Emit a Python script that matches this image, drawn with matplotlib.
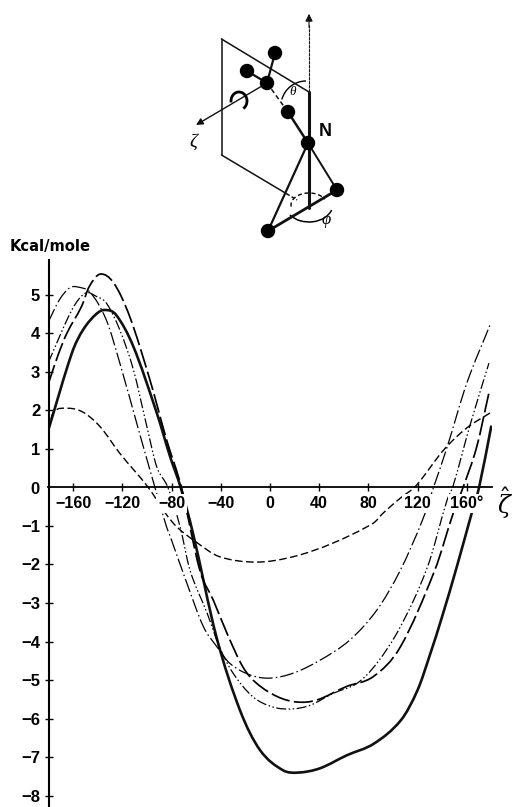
import matplotlib
matplotlib.use("Agg")
import matplotlib.pyplot as plt
from matplotlib.patches import Circle, Arc, PathPatch
from matplotlib.path import Path

plt.rcParams['font.family'] = ['Liberation Sans', 'DejaVu Sans']
plt.rcParams['mathtext.fontset'] = 'dejavuserif'

solid_x = [-180,-161,-152,-141,-134,-125,-111,-92,-81,-72.6,-62.5,-43.5,-24.4,-8,10.6,23,40.6,62.6,84.5,106.5,120,130,140,152,164,170,180]
solid_y = [1.5,3.48,4.08,4.5,4.6,4.47,3.65,1.93,0.78,0,-1.2,-3.88,-5.78,-6.82,-7.34,-7.4,-7.29,-6.95,-6.65,-6.04,-5.26,-4.35,-3.35,-2.05,-0.67,0,1.6]
ldash_x = [-180,-172,-165,-153,-147,-138,-127,-114,-97.5,-84,-72,-57,-46,-35,-22,-11,6,22,38,62,84,106,134,149,157,168,178]
ldash_y = [2.7,3.45,4.0,4.7,5.2,5.53,5.3,4.43,2.78,1.23,0,-2.15,-2.93,-3.78,-4.66,-5.08,-5.43,-5.57,-5.52,-5.17,-4.91,-4.14,-2.15,-0.67,0,1.04,2.45]
dd2_x = [-180,-161,-150,-141,-133,-122,-111,-100,-92,-83,-73,-65,-51,-41,-30,-14,2.4,18,33,51,71,87,106,128,144,149,163,178]
dd2_y = [3.25,4.6,5.04,4.95,4.78,4.08,3.05,1.57,0.53,0,-1.03,-2.15,-3.27,-4.14,-4.82,-5.43,-5.7,-5.75,-5.65,-5.35,-5.08,-4.56,-3.62,-2.07,-0.33,0.05,1.65,3.22]
dd1_x = [-180,-171,-163,-157,-146,-133,-122,-106,-93.5,-84,-81,-67.5,-54,-43,-32.5,-16,0,19,41,65,87,106,124,133,144,160,179]
dd1_y = [4.3,4.87,5.17,5.2,5.05,4.34,3.22,1.4,0,-1.03,-1.28,-2.49,-3.62,-4.14,-4.57,-4.87,-4.95,-4.82,-4.48,-3.96,-3.18,-2.15,-0.85,0,1.04,2.7,4.22]
sdash_x = [-180,-176,-164,-152,-138,-122,-99,-85,-75.6,-60,-41,-11,19,51,84,92,106,119,141,160,179]
sdash_y = [1.5,1.95,2.05,1.95,1.57,0.88,0,-0.67,-1.03,-1.42,-1.8,-1.94,-1.8,-1.45,-0.93,-0.67,-0.28,0.05,0.96,1.54,1.93]
x_ticks = [-160,-120,-80,-40,0,40,80,120,160]
x_labels = ['\u2212160','\u2212120','\u221280','\u221240','0','40','80','120','160°']
y_ticks = [5,4,3,2,1,-1,-2,-3,-4,-5,-6,-7,-8]
y_labels = ['5','4','3','2','1','\u22121','\u22122','\u22123','\u22124','\u22125','\u22126','\u22127','\u22128']

W, H = 513, 807
fig = plt.figure(figsize=(W/100, H/100), dpi=100, facecolor='white')
L, R, T, B = 48.5, 492, 260, 807
ax = fig.add_axes([L/W, 1-B/H, (R-L)/W, (B-T)/H])
ax.set_xlim(-180, 180.5)
ax.set_ylim((487.3-B)/38.55, (487.3-T)/38.55)
ax.patch.set_visible(False)
ax.set_axisbelow(False)
for s in ('top','right'):
    ax.spines[s].set_visible(False)
ax.spines['bottom'].set_position(('data',0))
ax.spines['left'].set_linewidth(1.5)
ax.spines['bottom'].set_linewidth(1.3)

def curve(xs, ys, **kw):
    """Smooth pen stroke through the read points (cubic segments, x-monotone)."""
    n = len(xs)
    m = [0.0]*n
    for i in range(n):
        a, b = max(i-1, 0), min(i+1, n-1)
        m[i] = (ys[b]-ys[a])/(xs[b]-xs[a])
    verts = [(xs[0], ys[0])]
    codes = [Path.MOVETO]
    for i in range(n-1):
        d = (xs[i+1]-xs[i])/3
        verts += [(xs[i]+d, ys[i]+m[i]*d), (xs[i+1]-d, ys[i+1]-m[i+1]*d), (xs[i+1], ys[i+1])]
        codes += [Path.CURVE4]*3
    ax.add_patch(PathPatch(Path(verts, codes), fill=False, zorder=2, capstyle='butt', **kw))

curve(solid_x, solid_y, edgecolor='#111111', lw=1.9)
curve(ldash_x, ldash_y, edgecolor='black', lw=1.25, ls=(0,(11,2.5)))
curve(dd2_x, dd2_y, edgecolor='black', lw=0.9, ls=(0,(8,2,1.2,2,1.2,2)))
curve(dd1_x, dd1_y, edgecolor='black', lw=0.9, ls=(0,(11,2.5,1.2,2.5)))
curve(sdash_x, sdash_y, edgecolor='black', lw=1.0, ls=(0,(5.5,2.5)))

ax.set_xticks(x_ticks, x_labels, fontsize=11.5, fontweight='bold')
ax.set_yticks(y_ticks, y_labels, fontsize=12, fontweight='bold')
ax.tick_params(axis='x', direction='inout', length=6, width=1, pad=3)
ax.tick_params(axis='y', direction='inout', length=6, width=1, pad=3)
for lab in ax.get_xticklabels():
    lab.set_bbox(dict(facecolor='white', edgecolor='none', pad=1.5))

# diagram and free labels in pixel coordinates
ov = fig.add_axes([0,0,1,1])
ov.set_xlim(0,W); ov.set_ylim(H,0); ov.axis('off'); ov.patch.set_visible(False)
ov.text(35, 489, '0', fontsize=12, fontweight='bold', ha='center', va='center')
ov.text(10, 246, 'Kcal/mole', fontsize=10.6, fontweight='bold', va='center', ha='left', family=['DejaVu Sans'])
ov.text(505, 503, r'$\hat{\zeta}$', fontsize=17, ha='center', va='center')

def seg(a, b, lw=1.1, ls='-', c='#111111', z=3):
    ov.plot([a[0],b[0]],[a[1],b[1]], color=c, lw=lw, ls=ls, zorder=z, solid_capstyle='round')

seg((221.5,39),(309,92))
seg((221.5,39),(221.5,155))
seg((221.5,155),(287,194))
seg((287,194),(297,200), ls=(0,(2,1.5)))
seg((309,92),(309,25), lw=0.8, ls=(0,(3,0.6)))
ov.annotate('', xy=(309,11), xytext=(309,30),
            arrowprops=dict(arrowstyle='-|>', color='#111111', lw=0.8, mutation_scale=11))
seg((309,92),(309,208), lw=2.2)
seg((275,53),(267,83), lw=1.6)
seg((247,71),(267,83), lw=1.6)
seg((267,83),(288,112), lw=1.1, ls=(0,(3,2)))
seg((288,112),(308,143), lw=1.8)
seg((308,143),(337,190), lw=1.4)
seg((308,143),(268,231), lw=1.6)
seg((268,231),(337,190), lw=2.0)
ov.annotate('', xy=(196,125), xytext=(267,83),
            arrowprops=dict(arrowstyle='-|>', color='#111111', lw=1.0, mutation_scale=10, shrinkA=0, shrinkB=0))
for cx, cy, r in [(275,53,6.5),(247,71,6.5),(267,83,6.5),(288,112,6.5),(308,143,6.5),(337,190,6.5),(268,231,6.5)]:
    ov.add_patch(Circle((cx,cy), r, color='black', zorder=5))
# rotation arrow round the zeta axis
ov.add_patch(Arc((239,101), 16, 18, angle=0, theta1=170, theta2=420, color='black', lw=2.0, zorder=4))
ov.add_patch(Arc((306,106), 50, 50, angle=0, theta1=195, theta2=270, color='black', lw=1.0, zorder=2))
ov.add_patch(Arc((309,205), 36, 24, angle=0, theta1=175, theta2=340, color='black', lw=1.0, ls=(0,(3,2)), zorder=2))
ov.add_patch(Arc((309,204), 48, 36, angle=0, theta1=15, theta2=150, color='black', lw=1.1, zorder=2))
ov.text(293, 92, 'θ', fontsize=9.5, style='italic', ha='center', va='center', family=['Liberation Serif'], zorder=6)
ov.text(325, 131, 'N', fontsize=13, fontweight='bold', ha='center', va='center')
ov.text(326, 220, 'φ', fontsize=12, style='italic', ha='center', va='center', family=['Liberation Serif'])
ov.text(193, 142, 'ζ', fontsize=14, style='italic', ha='center', va='center', family=['Liberation Serif'])

fig.savefig('out.png', dpi=100, facecolor='white')
